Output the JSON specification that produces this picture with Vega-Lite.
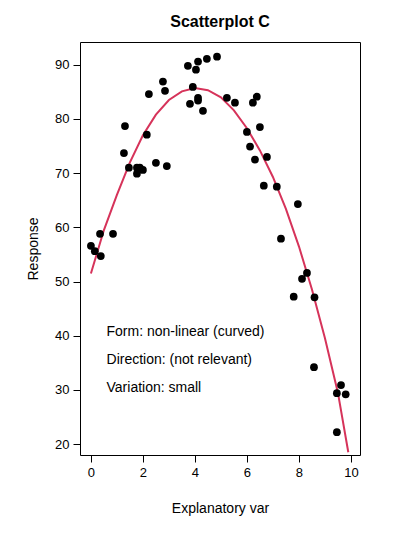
{"$schema":"https://vega.github.io/schema/vega-lite/v6.json","width":280,"height":413,"autosize":"none","padding":{"left":80,"top":42,"right":40,"bottom":95},
"title":{"text":"Scatterplot C","fontSize":16,"font":"Liberation Sans","fontWeight":"bold","offset":12,"color":"black"},
"config":{"view":{"stroke":"black","strokeWidth":1},"axis":{"grid":false,"domain":false,"tickColor":"black","labelColor":"black","labelFont":"Liberation Sans","titleFont":"Liberation Sans","labelFontSize":13,"titleFontSize":14,"titleFontWeight":"normal","titleColor":"black","tickSize":7,"labelPadding":4}},
"datasets":{"pts":[
{"x":0,"y":56.6},{"x":0.15,"y":55.6},{"x":0.35,"y":58.8},{"x":0.38,"y":54.7},{"x":0.85,"y":58.8},{"x":1.27,"y":73.7},{"x":1.31,"y":78.7},{"x":1.46,"y":71.0},{"x":1.77,"y":71.0},{"x":1.77,"y":69.9},{"x":1.88,"y":71.0},{"x":2.0,"y":70.6},{"x":2.15,"y":77.1},{"x":2.23,"y":84.6},{"x":2.5,"y":71.9},{"x":2.77,"y":86.9},{"x":2.85,"y":85.2},{"x":2.92,"y":71.3},
{"x":3.73,"y":89.8},{"x":4.12,"y":90.6},{"x":4.04,"y":89.1},{"x":4.46,"y":91.1},{"x":4.85,"y":91.5},{"x":3.92,"y":85.9},{"x":3.81,"y":82.8},{"x":4.12,"y":83.9},{"x":4.12,"y":83.4},{"x":4.31,"y":81.5},{"x":5.23,"y":83.9},{"x":5.54,"y":83.0},{"x":6.38,"y":84.1},{"x":6.23,"y":83.0},{"x":6.5,"y":78.5},{"x":6.0,"y":77.6},{"x":6.12,"y":74.9},{"x":6.77,"y":73.0},{"x":6.31,"y":72.5},{"x":6.65,"y":67.7},{"x":7.15,"y":67.5},
{"x":7.31,"y":57.9},{"x":7.96,"y":64.3},{"x":7.8,"y":47.2},{"x":8.12,"y":50.5},{"x":8.31,"y":51.6},{"x":8.6,"y":47.1},{"x":8.58,"y":34.2},{"x":9.46,"y":22.2},{"x":9.46,"y":29.4},{"x":9.62,"y":30.9},{"x":9.8,"y":29.2}],
"curve":[{"x":0,"y":51.5},{"x":0.5,"y":59.5},{"x":1,"y":66},{"x":1.5,"y":72},{"x":2,"y":77},{"x":2.5,"y":80.8},{"x":3,"y":83.5},{"x":3.5,"y":85.1},{"x":4,"y":85.7},{"x":4.5,"y":85.3},{"x":5,"y":84},{"x":5.5,"y":81.6},{"x":6,"y":78.3},{"x":6.5,"y":74.2},{"x":7,"y":69.3},{"x":7.5,"y":63.4},{"x":8,"y":56.5},{"x":8.5,"y":48.6},{"x":9,"y":39.6},{"x":9.5,"y":29.5},{"x":9.9,"y":18.5}],
"notes":[{"x":0.6,"y":40.7,"t":"Form: non-linear (curved)"},{"x":0.6,"y":35.5,"t":"Direction: (not relevant)"},{"x":0.6,"y":30.3,"t":"Variation: small"}]},
"layer":[
{"data":{"name":"curve"},"mark":{"type":"line","color":"#D6335A","strokeWidth":2,"clip":true},"encoding":{"x":{"field":"x","type":"quantitative","scale":{"domain":[-0.42,10.35],"nice":false,"zero":false},"axis":{"values":[0,2,4,6,8,10],"title":"Explanatory var","titlePadding":22}},"y":{"field":"y","type":"quantitative","scale":{"domain":[18,94.2],"nice":false,"zero":false},"axis":{"values":[20,30,40,50,60,70,80,90],"title":"Response","titlePadding":14}}}},
{"data":{"name":"pts"},"mark":{"type":"circle","color":"black","opacity":1,"size":60},"encoding":{"x":{"field":"x","type":"quantitative"},"y":{"field":"y","type":"quantitative"}}},
{"data":{"name":"notes"},"mark":{"type":"text","align":"left","baseline":"middle","fontSize":14,"font":"Liberation Sans","color":"black"},"encoding":{"x":{"field":"x","type":"quantitative"},"y":{"field":"y","type":"quantitative"},"text":{"field":"t"}}}
]}
